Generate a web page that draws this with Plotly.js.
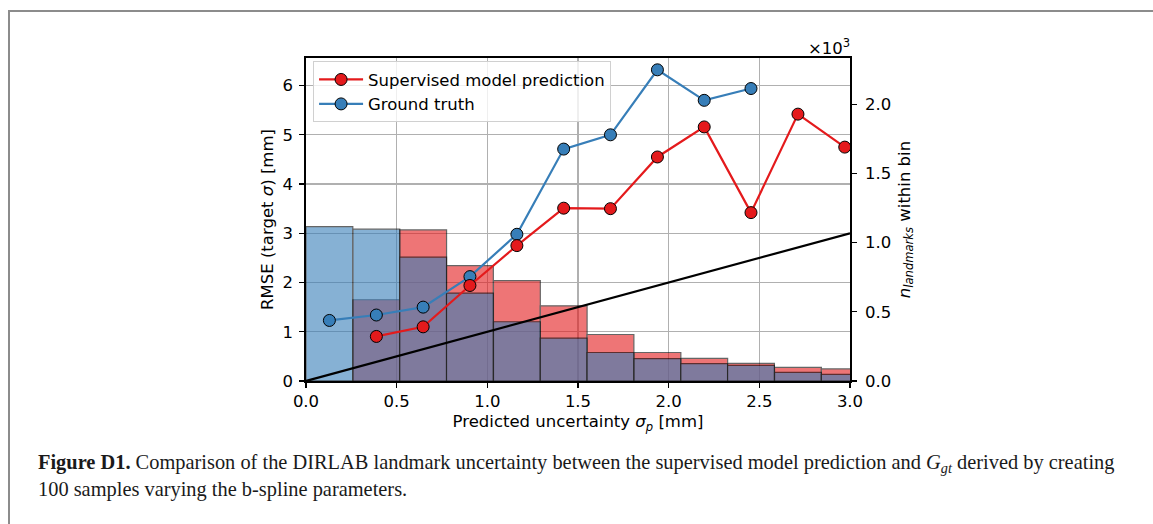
<!DOCTYPE html>
<html>
<head>
<meta charset="utf-8">
<script src="https://cdn.plot.ly/plotly-3.0.1.min.js"></script>
<style>
  html, body { margin: 0; padding: 0; background: #fff; }
  #frame { position: absolute; left: 8px; top: 10px; width: 1145px; height: 514px;
           border-left: 2px solid #8c8c8c; border-top: 2px solid #8c8c8c; box-sizing: border-box; }
  #chart { position: absolute; left: 0; top: 0; width: 1153px; height: 524px; }
</style>
</head>
<body>
<div id="frame"></div>
<div id="chart"></div>
<script>
// ---- data ----
const binCenters = [0.129, 0.388, 0.646, 0.904, 1.163, 1.421, 1.679, 1.938, 2.196, 2.454, 2.713, 2.971];
const binWidth = 0.2583;
// landmark counts within each bin (right axis, in landmarks)
const countPred = [0, 587, 1092, 834, 726, 543, 336, 206, 163, 127, 98, 87];
const countGT   = [1115, 1097, 895, 635, 428, 310, 206, 161, 125, 113, 62, 48];
// RMSE per bin (left axis, mm)
const rmsePredX = [0.388, 0.646, 0.904, 1.163, 1.421, 1.679, 1.938, 2.196, 2.454, 2.713, 2.971];
const rmsePred  = [0.905, 1.10, 1.94, 2.75, 3.51, 3.50, 4.55, 5.16, 3.42, 5.42, 4.75];
const rmseGTX   = [0.129, 0.388, 0.646, 0.904, 1.163, 1.421, 1.679, 1.938, 2.196, 2.454];
const rmseGT    = [1.23, 1.34, 1.50, 2.12, 2.98, 4.71, 5.00, 6.32, 5.70, 5.94];
const identityX = [0, 3];
const identityY = [0, 3];
const xTicks = [0, 0.5, 1.0, 1.5, 2.0, 2.5, 3.0];
const xTickText = ['0.0', '0.5', '1.0', '1.5', '2.0', '2.5', '3.0'];
const leftTicks = [0, 1, 2, 3, 4, 5, 6];
const rightTicks = [0, 500, 1000, 1500, 2000];
const rightTickText = ['0.0', '0.5', '1.0', '1.5', '2.0'];

const RED = '#e41a1c', BLUE = '#377eb8';
const FONT = 'DejaVu Sans, sans-serif';
const FS = 16.5;

const traces = [
  { type: 'bar', x: binCenters, y: countPred, width: binWidth, xaxis: 'x', yaxis: 'y',
    marker: { color: RED, line: { color: '#000', width: 1.2 } }, opacity: 0.6,
    showlegend: false, hoverinfo: 'skip' },
  { type: 'bar', x: binCenters, y: countGT, width: binWidth, xaxis: 'x', yaxis: 'y',
    marker: { color: BLUE, line: { color: '#000', width: 1.2 } }, opacity: 0.6,
    showlegend: false, hoverinfo: 'skip' },
  { type: 'scatter', mode: 'lines', x: identityX, y: identityY, xaxis: 'x', yaxis: 'y2',
    line: { color: '#000', width: 2.2 }, showlegend: false, hoverinfo: 'skip' },
  { type: 'scatter', mode: 'lines+markers', name: 'Ground truth', x: rmseGTX, y: rmseGT,
    xaxis: 'x', yaxis: 'y2', legendrank: 2,
    line: { color: BLUE, width: 2.2 },
    marker: { color: BLUE, size: 12, line: { color: '#000', width: 1 } } },
  { type: 'scatter', mode: 'lines+markers', name: 'Supervised model prediction', x: rmsePredX, y: rmsePred,
    xaxis: 'x', yaxis: 'y2', legendrank: 1,
    line: { color: RED, width: 2.2 },
    marker: { color: RED, size: 12, line: { color: '#000', width: 1 } } }
];

const axisCommon = {
  showline: true, linecolor: '#000', linewidth: 1.6,
  ticks: 'outside', ticklen: 5, tickwidth: 1.3, tickcolor: '#000',
  tickfont: { family: FONT, size: FS, color: '#000' },
  zeroline: false
};

const layout = {
  width: 1153, height: 524,
  paper_bgcolor: 'rgba(0,0,0,0)', plot_bgcolor: 'rgba(0,0,0,0)',
  margin: { l: 306, r: 303, t: 58, b: 143, pad: 0 },
  barmode: 'overlay',
  font: { family: FONT, size: FS, color: '#000' },
  xaxis: Object.assign({}, axisCommon, {
    range: [0, 3], tickvals: xTicks, ticktext: xTickText, mirror: true,
    showgrid: true, gridcolor: '#b0b0b0', gridwidth: 1.3,
    title: { text: 'Predicted uncertainty <i>σ</i><sub><i>p</i></sub> [mm]', font: { family: FONT, size: FS }, standoff: 5 }
  }),
  yaxis: Object.assign({}, axisCommon, {
    side: 'right', range: [0, 2334], tickvals: rightTicks, ticktext: rightTickText,
    showgrid: false, ticklabelstandoff: 5,
    title: { text: '<i>n</i><sub><i>landmarks</i></sub> within bin', font: { family: FONT, size: FS }, standoff: 8 }
  }),
  yaxis2: Object.assign({}, axisCommon, {
    overlaying: 'y', side: 'left', range: [0, 6.56], tickvals: leftTicks,
    showgrid: true, gridcolor: '#b0b0b0', gridwidth: 1.3, ticklabelstandoff: 3,
    title: { text: 'RMSE (target <i>σ</i>) [mm]', font: { family: FONT, size: FS }, standoff: 5 }
  }),
  legend: {
    x: 0.013, y: 0.99, xanchor: 'left', yanchor: 'top', itemwidth: 44,
    bgcolor: 'rgba(255,255,255,0.8)', bordercolor: '#d0d0d0', borderwidth: 1,
    font: { family: FONT, size: FS, color: '#000' }, tracegroupgap: 0
  },
  annotations: [
    { xref: 'paper', yref: 'paper', x: 1.004, y: 1.034, xanchor: 'right', yanchor: 'middle',
      text: '×10<sup>3</sup>', showarrow: false, font: { family: FONT, size: FS, color: '#000' } },
    { xref: 'paper', yref: 'paper', x: (36 - 306) / 544, y: (381 - 463) / 323, xanchor: 'left', yanchor: 'middle',
      text: '<b>Figure D1.</b> Comparison of the DIRLAB landmark uncertainty between the supervised model prediction and <i>G</i><sub><i>gt</i></sub> derived by creating',
      showarrow: false, align: 'left', font: { family: 'Liberation Serif, serif', size: 20.4, color: '#1a1a1a' } },
    { xref: 'paper', yref: 'paper', x: (36 - 306) / 544, y: (381 - 490) / 323, xanchor: 'left', yanchor: 'middle',
      text: '100 samples varying the b-spline parameters.',
      showarrow: false, align: 'left', font: { family: 'Liberation Serif, serif', size: 20.4, color: '#1a1a1a' } }
  ]
};

Plotly.newPlot('chart', traces, layout, { displayModeBar: false, staticPlot: true });
</script>
</body>
</html>
